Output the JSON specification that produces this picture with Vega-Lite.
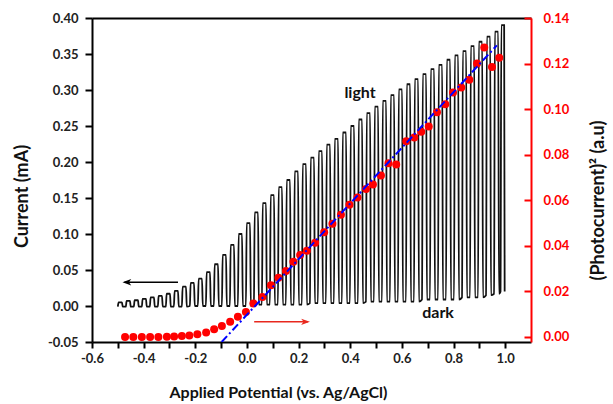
{
"$schema": "https://vega.github.io/schema/vega-lite/v6.json",
"width": 439, "height": 324,
"autosize": {"type": "none"},
"padding": {"left": 92, "top": 18, "right": 82, "bottom": 62},
"background": "white",
"config": {
  "view": {"stroke": null},
  "font": "Lato",
  "axis": {"grid": false, "labelFlush": false, "labelOverlap": false},
  "locale": {"number": {"decimal": ".", "thousands": ",", "grouping": [3], "currency": ["$", ""], "minus": "-"}}
},
"datasets": {
"trace": [
{"v":-0.500,"i":-0.001},{"v":-0.497,"i":0.005},{"v":-0.484,"i":0.005},{"v":-0.481,"i":-0.001},
{"v":-0.469,"i":-0.001},{"v":-0.466,"i":0.007},{"v":-0.453,"i":0.007},{"v":-0.450,"i":-0.001},
{"v":-0.438,"i":-0.001},{"v":-0.435,"i":0.008},{"v":-0.422,"i":0.008},{"v":-0.419,"i":-0.001},
{"v":-0.407,"i":-0.001},{"v":-0.404,"i":0.010},{"v":-0.391,"i":0.010},{"v":-0.388,"i":-0.001},
{"v":-0.376,"i":-0.001},{"v":-0.373,"i":0.012},{"v":-0.360,"i":0.012},{"v":-0.357,"i":-0.001},
{"v":-0.345,"i":-0.001},{"v":-0.342,"i":0.014},{"v":-0.329,"i":0.014},{"v":-0.326,"i":-0.001},
{"v":-0.314,"i":-0.001},{"v":-0.311,"i":0.017},{"v":-0.298,"i":0.017},{"v":-0.295,"i":-0.001},
{"v":-0.283,"i":-0.001},{"v":-0.280,"i":0.021},{"v":-0.267,"i":0.021},{"v":-0.264,"i":-0.001},
{"v":-0.252,"i":-0.001},{"v":-0.249,"i":0.027},{"v":-0.236,"i":0.027},{"v":-0.233,"i":-0.001},
{"v":-0.221,"i":0},{"v":-0.218,"i":0.032},{"v":-0.205,"i":0.032},{"v":-0.202,"i":0},
{"v":-0.190,"i":0},{"v":-0.187,"i":0.038},{"v":-0.174,"i":0.038},{"v":-0.171,"i":0},
{"v":-0.159,"i":0},{"v":-0.156,"i":0.047},{"v":-0.143,"i":0.047},{"v":-0.140,"i":0},
{"v":-0.128,"i":0},{"v":-0.125,"i":0.058},{"v":-0.112,"i":0.058},{"v":-0.109,"i":0},
{"v":-0.097,"i":0},{"v":-0.094,"i":0.071},{"v":-0.081,"i":0.071},{"v":-0.078,"i":0},
{"v":-0.066,"i":0},{"v":-0.063,"i":0.085},{"v":-0.050,"i":0.085},{"v":-0.047,"i":0},
{"v":-0.035,"i":0},{"v":-0.032,"i":0.100},{"v":-0.019,"i":0.100},{"v":-0.016,"i":0},
{"v":-0.004,"i":0},{"v":-0.001,"i":0.115},{"v":0.012,"i":0.115},{"v":0.015,"i":0},
{"v":0.027,"i":0.002},{"v":0.030,"i":0.130},{"v":0.043,"i":0.130},{"v":0.046,"i":0.002},
{"v":0.058,"i":0.002},{"v":0.061,"i":0.143},{"v":0.074,"i":0.143},{"v":0.077,"i":0.002},
{"v":0.089,"i":0.002},{"v":0.092,"i":0.154},{"v":0.105,"i":0.154},{"v":0.108,"i":0.002},
{"v":0.120,"i":0.002},{"v":0.123,"i":0.165},{"v":0.136,"i":0.165},{"v":0.139,"i":0.002},
{"v":0.151,"i":0.002},{"v":0.154,"i":0.175},{"v":0.167,"i":0.175},{"v":0.170,"i":0.002},
{"v":0.182,"i":0.002},{"v":0.185,"i":0.187},{"v":0.198,"i":0.187},{"v":0.201,"i":0.002},
{"v":0.213,"i":0.002},{"v":0.216,"i":0.197},{"v":0.229,"i":0.197},{"v":0.232,"i":0.002},
{"v":0.244,"i":0.004},{"v":0.247,"i":0.206},{"v":0.260,"i":0.206},{"v":0.263,"i":0.004},
{"v":0.275,"i":0.004},{"v":0.278,"i":0.215},{"v":0.291,"i":0.215},{"v":0.294,"i":0.004},
{"v":0.306,"i":0.004},{"v":0.309,"i":0.224},{"v":0.322,"i":0.224},{"v":0.325,"i":0.004},
{"v":0.337,"i":0.004},{"v":0.340,"i":0.232},{"v":0.353,"i":0.232},{"v":0.356,"i":0.004},
{"v":0.368,"i":0.004},{"v":0.371,"i":0.241},{"v":0.384,"i":0.241},{"v":0.387,"i":0.004},
{"v":0.399,"i":0.004},{"v":0.402,"i":0.250},{"v":0.415,"i":0.250},{"v":0.418,"i":0.004},
{"v":0.430,"i":0.004},{"v":0.433,"i":0.259},{"v":0.446,"i":0.259},{"v":0.449,"i":0.004},
{"v":0.461,"i":0.006},{"v":0.464,"i":0.268},{"v":0.477,"i":0.268},{"v":0.480,"i":0.006},
{"v":0.492,"i":0.006},{"v":0.495,"i":0.277},{"v":0.508,"i":0.277},{"v":0.511,"i":0.006},
{"v":0.523,"i":0.006},{"v":0.526,"i":0.285},{"v":0.539,"i":0.285},{"v":0.542,"i":0.006},
{"v":0.554,"i":0.006},{"v":0.557,"i":0.293},{"v":0.570,"i":0.293},{"v":0.573,"i":0.006},
{"v":0.585,"i":0.006},{"v":0.588,"i":0.301},{"v":0.601,"i":0.301},{"v":0.604,"i":0.006},
{"v":0.616,"i":0.006},{"v":0.619,"i":0.308},{"v":0.632,"i":0.308},{"v":0.635,"i":0.006},
{"v":0.647,"i":0.006},{"v":0.650,"i":0.315},{"v":0.663,"i":0.315},{"v":0.666,"i":0.006},
{"v":0.678,"i":0.009},{"v":0.681,"i":0.322},{"v":0.694,"i":0.322},{"v":0.697,"i":0.009},
{"v":0.709,"i":0.009},{"v":0.712,"i":0.329},{"v":0.725,"i":0.329},{"v":0.728,"i":0.009},
{"v":0.740,"i":0.009},{"v":0.743,"i":0.335},{"v":0.756,"i":0.335},{"v":0.759,"i":0.009},
{"v":0.771,"i":0.009},{"v":0.774,"i":0.342},{"v":0.787,"i":0.342},{"v":0.790,"i":0.009},
{"v":0.802,"i":0.009},{"v":0.805,"i":0.348},{"v":0.818,"i":0.348},{"v":0.821,"i":0.009},
{"v":0.833,"i":0.012},{"v":0.836,"i":0.354},{"v":0.849,"i":0.354},{"v":0.852,"i":0.012},
{"v":0.864,"i":0.012},{"v":0.867,"i":0.361},{"v":0.880,"i":0.361},{"v":0.883,"i":0.012},
{"v":0.895,"i":0.012},{"v":0.898,"i":0.367},{"v":0.911,"i":0.367},{"v":0.914,"i":0.012},
{"v":0.926,"i":0.015},{"v":0.929,"i":0.374},{"v":0.942,"i":0.374},{"v":0.945,"i":0.015},
{"v":0.957,"i":0.017},{"v":0.960,"i":0.381},{"v":0.973,"i":0.381},{"v":0.976,"i":0.017},
{"v":0.982,"i":0.020},{"v":0.985,"i":0.390},{"v":0.996,"i":0.390},{"v":0.998,"i":0.020}
],
"dots": [
{"v":-0.472,"p":0.0},{"v":-0.44,"p":0.0},{"v":-0.407,"p":0.0},{"v":-0.375,"p":0.0},{"v":-0.343,"p":0.0},
{"v":-0.31,"p":0.0001},{"v":-0.282,"p":0.0002},{"v":-0.252,"p":0.0004},{"v":-0.223,"p":0.0006},{"v":-0.192,"p":0.0012},
{"v":-0.158,"p":0.002},{"v":-0.127,"p":0.0034},{"v":-0.097,"p":0.0048},{"v":-0.065,"p":0.0067},{"v":-0.035,"p":0.0089},
{"v":-0.004,"p":0.011},{"v":0.025,"p":0.0147},{"v":0.06,"p":0.0176},{"v":0.093,"p":0.0227},{"v":0.122,"p":0.026},
{"v":0.151,"p":0.029},{"v":0.18,"p":0.033},{"v":0.206,"p":0.036},{"v":0.232,"p":0.0378},{"v":0.264,"p":0.0414},
{"v":0.299,"p":0.046},{"v":0.331,"p":0.0497},{"v":0.364,"p":0.0537},{"v":0.397,"p":0.058},{"v":0.428,"p":0.0612},
{"v":0.461,"p":0.065},{"v":0.488,"p":0.0669},{"v":0.519,"p":0.0709},{"v":0.548,"p":0.0762},{"v":0.578,"p":0.0757},
{"v":0.617,"p":0.0859},{"v":0.648,"p":0.0876},{"v":0.675,"p":0.0901},{"v":0.704,"p":0.0924},{"v":0.736,"p":0.0986},
{"v":0.768,"p":0.1022},{"v":0.798,"p":0.1073},{"v":0.83,"p":0.1095},{"v":0.861,"p":0.1129},{"v":0.891,"p":0.12},
{"v":0.919,"p":0.127},{"v":0.949,"p":0.1185},{"v":0.977,"p":0.1226}
],
"fit": [{"v":-0.098,"p":-0.0022},{"v":0.968,"p":0.128}],
"blackArrow": [{"v":-0.474,"v2":-0.267,"i":0.033}],
"blackHead": [{"v":-0.482,"i":0.033}],
"redArrow": [{"v":0.028,"v2":0.236,"i":-0.022}],
"redHead": [{"v":0.244,"i":-0.022}],
"notes": [{"v":0.438,"i":0.296,"t":"light"},{"v":0.74,"i":-0.01,"t":"dark"}]
},
"layer": [
 {
  "encoding": {
   "x": {"field": "v", "type": "quantitative", "scale": {"domain": [-0.6, 1.1], "nice": false, "zero": false},
     "axis": {"values": [-0.6,-0.5,-0.4,-0.3,-0.2,-0.1,0,0.1,0.2,0.3,0.4,0.5,0.6,0.7,0.8,0.9,1.0],
       "labelExpr": "abs(round(datum.value*10)) % 2 == 0 ? format(datum.value, '.1f') : ''",
       "title": "Applied Potential (vs. Ag/AgCl)",
       "domainColor": "black", "domainWidth": 2, "tickColor": "black", "tickWidth": 2, "tickSize": 6,
       "labelFont": "Lato", "labelFontWeight": "bold", "labelFontSize": 13, "labelColor": "#222", "labelPadding": 4,
       "titleFont": "Lato", "titleFontWeight": "bold", "titleFontSize": 16, "titleColor": "#111",
       "titleX": 186, "titleY": 50, "titleBaseline": "middle", "titleAlign": "center"}},
   "y": {"field": "i", "type": "quantitative", "scale": {"domain": [-0.05, 0.40], "nice": false, "zero": false},
     "axis": {"values": [-0.05,0,0.05,0.1,0.15,0.2,0.25,0.3,0.35,0.4], "format": ".2f",
       "title": "Current (mA)",
       "domainColor": "black", "domainWidth": 2, "tickColor": "black", "tickWidth": 2, "tickSize": 7,
       "labelFont": "Lato", "labelFontWeight": "bold", "labelFontSize": 13, "labelColor": "#222", "labelPadding": 7,
       "titleFont": "Lato", "titleFontWeight": "bold", "titleFontSize": 18, "titleColor": "#111",
       "titleX": -70, "titleY": 178, "titleAngle": 270, "titleBaseline": "middle", "titleAlign": "center"}}
  },
  "layer": [
   {"data": {"name": "trace"}, "mark": {"type": "line", "color": "#111", "strokeWidth": 1.8, "interpolate": "monotone"}, "encoding": {}},
   {"data": {"name": "blackArrow"}, "mark": {"type": "rule", "color": "black", "strokeWidth": 1.5}, "encoding": {"x2": {"field": "v2"}}},
   {"data": {"name": "blackHead"}, "mark": {"type": "point", "shape": "M0,0 L2.2,-0.8 L1.6,0 L2.2,0.8 Z", "size": 64, "filled": true, "color": "black", "opacity": 1}, "encoding": {}},
   {"data": {"name": "redArrow"}, "mark": {"type": "rule", "color": "#e8281e", "strokeWidth": 1.5}, "encoding": {"x2": {"field": "v2"}}},
   {"data": {"name": "redHead"}, "mark": {"type": "point", "shape": "M0,0 L-2.2,-0.8 L-1.6,0 L-2.2,0.8 Z", "size": 64, "filled": true, "color": "#e8281e", "opacity": 1}, "encoding": {}},
   {"data": {"name": "notes"}, "mark": {"type": "text", "font": "Lato", "fontWeight": "bold", "fontSize": 16, "color": "#111", "align": "center", "baseline": "middle"}, "encoding": {"text": {"field": "t"}}}
  ]
 },
 {
  "encoding": {
   "x": {"field": "v", "type": "quantitative", "scale": {"domain": [-0.6, 1.1], "nice": false, "zero": false},
     "axis": {"orient": "top", "labels": false, "ticks": false, "domain": true, "domainColor": "black", "domainWidth": 2, "title": null}},
   "y": {"field": "p", "type": "quantitative", "scale": {"domain": [-0.0022, 0.14], "nice": false, "zero": false},
     "axis": {"orient": "right", "values": [0,0.02,0.04,0.06,0.08,0.1,0.12,0.14], "format": ".2f",
       "title": "(Photocurrent)²  (a.u)",
       "domainColor": "#ff0000", "domainWidth": 2, "tickColor": "#ff0000", "tickWidth": 2, "tickSize": -7,
       "labelFont": "Lato", "labelFontWeight": "bold", "labelFontSize": 13, "labelColor": "#ff0000", "labelPadding": 19,
       "titleFont": "Lato", "titleFontWeight": "bold", "titleFontSize": 18, "titleColor": "#111",
       "titleX": 67, "titleY": 182, "titleAngle": 270, "titleBaseline": "middle", "titleAlign": "center"}}
  },
  "layer": [
   {"data": {"name": "dots"}, "mark": {"type": "circle", "color": "#ff0000", "size": 64, "opacity": 1}, "encoding": {}},
   {"data": {"name": "fit"}, "mark": {"type": "line", "color": "#0000ff", "strokeWidth": 2, "strokeDash": [8, 3, 2, 3], "clip": true}, "encoding": {}}
  ]
 }
],
"resolve": {"scale": {"y": "independent"}, "axis": {"x": "independent"}}
}
